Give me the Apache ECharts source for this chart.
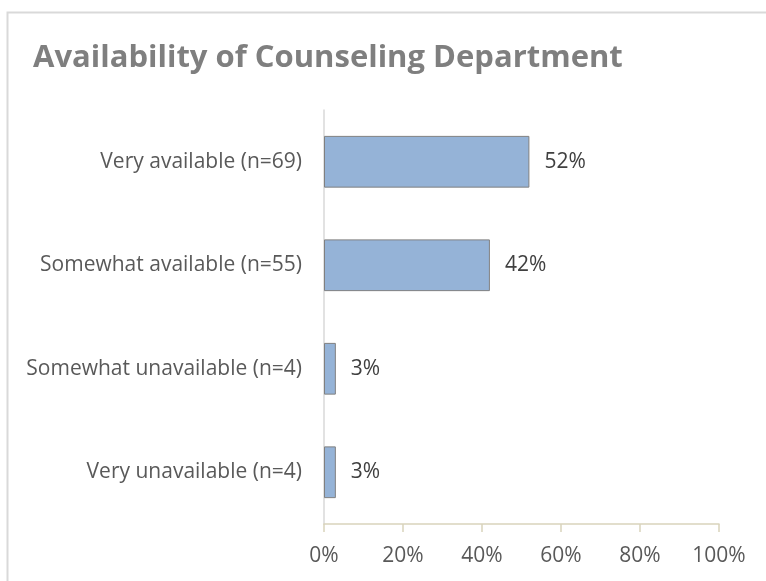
<!DOCTYPE html>
<html>
<head>
<meta charset="utf-8">
<script src="https://cdn.jsdelivr.net/npm/echarts@6/dist/echarts.min.js"></script>
<style>
html,body{margin:0;padding:0;background:#fff;}
#c{width:766px;height:581px;}
</style>
</head>
<body>
<div id="c"></div>
<script>
const titleText = "Availability of Counseling Department";
const categories = ["Very available (n=69)", "Somewhat available (n=55)", "Somewhat unavailable (n=4)", "Very unavailable (n=4)"];
const values = [52, 42, 3, 3];
const xTicks = [0, 20, 40, 60, 80, 100];

const chart = echarts.init(document.getElementById('c'), null, {renderer: 'canvas'});
const FONT = '"Open Sans", sans-serif';
chart.setOption({
  animation: false,
  backgroundColor: '#fff',
  graphic: [{
    type: 'rect', left: 5, top: 10, silent: true,
    shape: {width: 820, height: 640},
    style: {fill: 'none', stroke: '#d9d9d9', lineWidth: 2}
  }],
  title: {
    text: titleText, left: 28, top: 38,
    textStyle: {fontFamily: FONT, fontWeight: 'bold', fontSize: 31, color: '#7f7f7f'}
  },
  grid: {left: 324, right: 47, top: 110, bottom: 57, containLabel: false},
  xAxis: {
    type: 'value', min: xTicks[0], max: xTicks[xTicks.length - 1], interval: 20,
    axisLine: {show: true, lineStyle: {color: '#d9d4bc', width: 1.5}},
    axisTick: {show: true, length: 8, lineStyle: {color: '#d9d4bc', width: 1.5}},
    splitLine: {show: false},
    axisLabel: {margin: 22, fontFamily: FONT, fontSize: 21, color: '#595959', formatter: v => v + '%'}
  },
  yAxis: {
    type: 'category', data: categories, inverse: true,
    axisLine: {show: true, lineStyle: {color: '#d9d9d9', width: 1.5}},
    axisTick: {show: false},
    axisLabel: {margin: 22, fontFamily: FONT, fontSize: 21, color: '#595959'}
  },
  series: [{
    type: 'bar', data: values, barWidth: '50%',
    itemStyle: {color: '#95b3d7', borderColor: '#808080', borderWidth: 1},
    label: {show: true, position: 'right', distance: 15, fontFamily: FONT, fontSize: 21, color: '#404040', formatter: p => p.value + '%'}
  }]
});
</script>
</body>
</html>
